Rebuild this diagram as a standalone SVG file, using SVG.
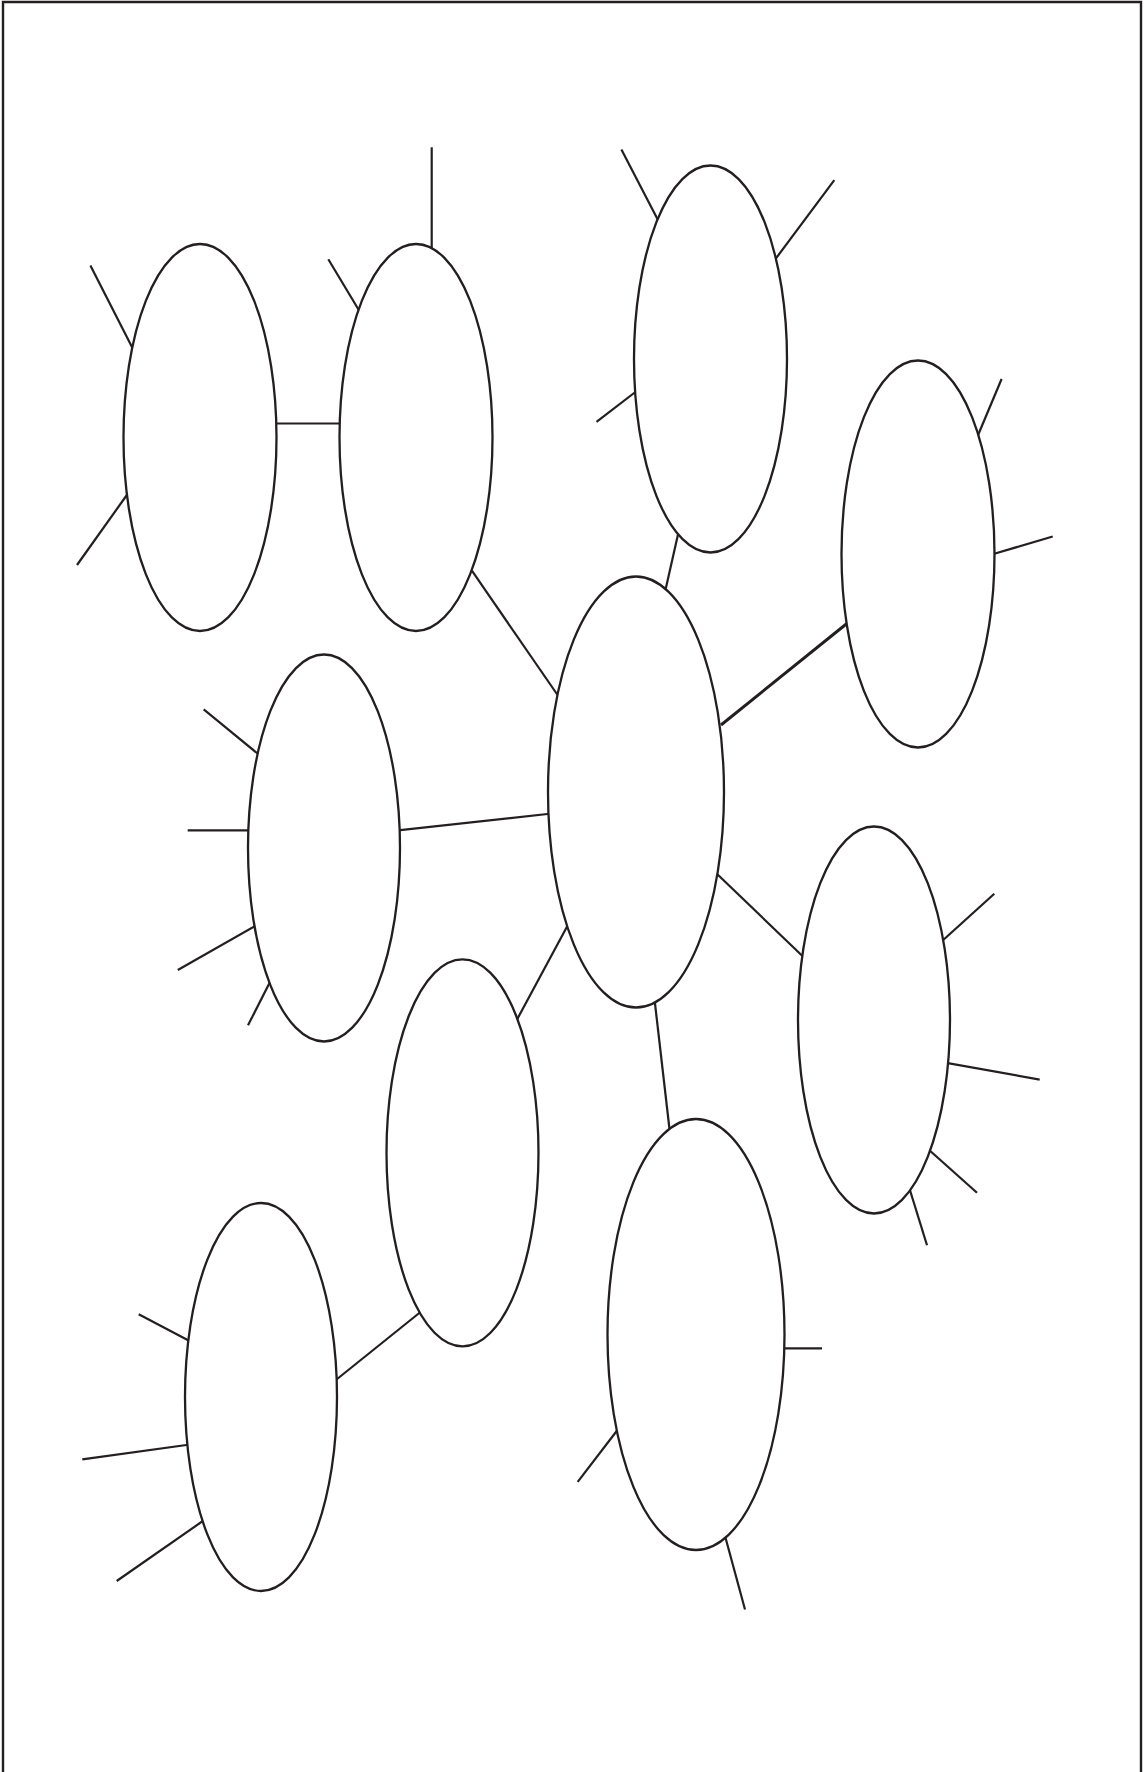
<svg xmlns="http://www.w3.org/2000/svg" width="1144" height="1772" viewBox="0 0 1144 1772">
<style>
.ln{stroke:#231f20;stroke-width:2.2;fill:none;stroke-linecap:butt}
.nd{stroke:#231f20;stroke-width:2.3;fill:#fff}
.bd{stroke:#231f20;stroke-width:2.4;fill:none}
</style>
<rect width="1144" height="1772" fill="#fff"/>
<path class="bd" d="M3,1772 V2 H1141 V1772"/>
<g id="connectors">
<line class="ln" x1="270" y1="423.5" x2="346" y2="423.5"/>
<line class="ln" x1="471.9" y1="570.7" x2="560" y2="698.5"/>
<line class="ln" x1="679" y1="530" x2="665" y2="592"/>
<line class="ln" x1="721" y1="725" x2="850" y2="621" style="stroke-width:3"/>
<line class="ln" x1="398" y1="830.3" x2="552" y2="813.5"/>
<line class="ln" x1="716" y1="873" x2="804" y2="957.5"/>
<line class="ln" x1="516.5" y1="1020.5" x2="570.6" y2="920"/>
<line class="ln" x1="654.6" y1="1000" x2="669.6" y2="1130"/>
<line class="ln" x1="334" y1="1381.5" x2="423" y2="1310"/>
</g>
<g id="node1">
<line class="ln" x1="90.4" y1="265.4" x2="134" y2="351"/>
<line class="ln" x1="77" y1="565" x2="129" y2="492"/>
<ellipse class="nd" cx="200" cy="437.5" rx="76.5" ry="193.5"/>
</g>
<g id="node2">
<line class="ln" x1="328.3" y1="259.3" x2="360" y2="312"/>
<line class="ln" x1="431.7" y1="147.3" x2="431.7" y2="250"/>
<ellipse class="nd" cx="416" cy="437.5" rx="76.5" ry="193.5"/>
</g>
<g id="node3">
<line class="ln" x1="621.4" y1="149.6" x2="659" y2="222"/>
<line class="ln" x1="834.3" y1="180.2" x2="774" y2="261"/>
<line class="ln" x1="596.5" y1="421.8" x2="638" y2="390"/>
<ellipse class="nd" cx="710.5" cy="359" rx="76.5" ry="193.5"/>
</g>
<g id="node4">
<line class="ln" x1="1001.6" y1="379" x2="976" y2="440"/>
<line class="ln" x1="1052.7" y1="536.5" x2="990" y2="555"/>
<ellipse class="nd" cx="918" cy="554" rx="76.5" ry="193.5"/>
</g>
<g id="node5">
<ellipse class="nd" cx="636" cy="792" rx="88" ry="215.5"/>
</g>
<g id="node6">
<line class="ln" x1="203.7" y1="709.3" x2="260" y2="755.5"/>
<line class="ln" x1="187.7" y1="830.3" x2="252" y2="830.3"/>
<line class="ln" x1="177.8" y1="970" x2="257" y2="925"/>
<line class="ln" x1="248" y1="1025.3" x2="271" y2="980"/>
<ellipse class="nd" cx="324" cy="848" rx="76" ry="193.5"/>
</g>
<g id="node7">
<line class="ln" x1="994.3" y1="893.7" x2="941" y2="942"/>
<line class="ln" x1="1039.7" y1="1079.6" x2="945" y2="1062.6"/>
<line class="ln" x1="977" y1="1192.7" x2="928" y2="1149"/>
<line class="ln" x1="927" y1="1245.3" x2="909" y2="1187"/>
<ellipse class="nd" cx="874" cy="1020" rx="76" ry="193.5"/>
</g>
<g id="node8">
<ellipse class="nd" cx="462.5" cy="1152.8" rx="76" ry="193.5"/>
</g>
<g id="node9">
<line class="ln" x1="780" y1="1348.4" x2="822" y2="1348.4"/>
<line class="ln" x1="577.7" y1="1481.8" x2="619" y2="1428"/>
<line class="ln" x1="745" y1="1609.5" x2="724.5" y2="1534"/>
<ellipse class="nd" cx="696" cy="1334.5" rx="88.5" ry="215.5"/>
</g>
<g id="node10">
<line class="ln" x1="138.7" y1="1314.3" x2="190" y2="1341.3"/>
<line class="ln" x1="82.3" y1="1459.3" x2="190" y2="1444.5"/>
<line class="ln" x1="116.7" y1="1581" x2="205" y2="1519.5"/>
<ellipse class="nd" cx="261" cy="1397" rx="76" ry="194"/>
</g>
</svg>
